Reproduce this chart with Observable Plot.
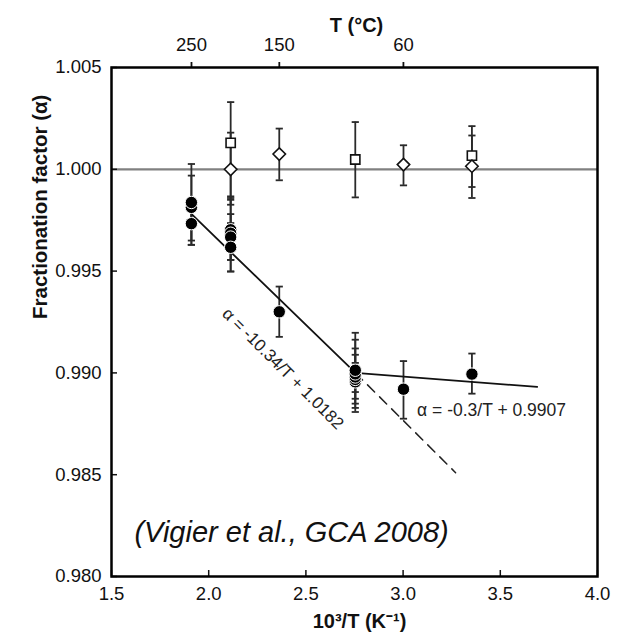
<!DOCTYPE html>
<html>
<head>
<meta charset="utf-8">
<script src="https://cdn.jsdelivr.net/npm/d3@7"></script>
<script src="https://cdn.jsdelivr.net/npm/@observablehq/plot@0.6"></script>
<style>
  html, body { margin: 0; padding: 0; background: #fff; }
  #chart svg { display: block; }
</style>
</head>
<body>
<div id="chart"></div>
<script>
// ---- data ----
const xTicks = [1.5, 2.0, 2.5, 3.0, 3.5, 4.0];
const yTicks = [0.980, 0.985, 0.990, 0.995, 1.000, 1.005];
const topTempC = [250, 150, 60];          // top axis labels, T (°C)
const refLineY = [1.000];

// filled circles
const circleX  = [1.911, 1.911, 1.911, 2.113, 2.113, 2.113, 2.113, 2.363, 2.754, 2.754, 2.754, 2.754, 2.754, 3.002, 3.354];
const circleY  = [0.99733, 0.99813, 0.99837, 0.99703, 0.99686, 0.99667, 0.99617, 0.99300, 0.98956, 0.98968, 0.98980, 0.98995, 0.99013, 0.98920, 0.98994];
const circleLo = [0.99629, 0.99650, 0.99629, 0.99555, 0.99498, 0.99555, 0.99498, 0.99177, 0.98808, 0.98906, 0.98873, 0.98849, 0.98828, 0.98775, 0.98898];
const circleHi = [0.99837, 0.99969, 1.00026, 0.99850, 0.99867, 0.99780, 0.99736, 0.99424, 0.99049, 0.99089, 0.99120, 0.99163, 0.99197, 0.99058, 0.99095];

// open squares
const squareX  = [2.113, 2.754, 3.354];
const squareY  = [1.00130, 1.00048, 1.00067];
const squareLo = [0.99859, 0.99862, 0.99913];
const squareHi = [1.00330, 1.00232, 1.00212];

// open diamonds
const diamondX  = [2.113, 2.363, 3.002, 3.354];
const diamondY  = [1.00000, 1.00075, 1.00023, 1.00015];
const diamondLo = [0.99826, 0.99946, 0.99921, 0.99859];
const diamondHi = [1.00180, 1.00200, 1.00118, 1.00166];

// fitted lines (end points)
const fit1X = [1.915, 2.755];  const fit1Y = [0.99777, 0.99000];
const fit1dX = [2.755, 3.27];  const fit1dY = [0.99000, 0.98510];
const fit2X = [2.755, 3.69];   const fit2Y = [0.99000, 0.98931];

// annotations
const eq1 = {x: 2.382, y: 0.99021, text: "α = -10.34/T + 1.0182"};
const eq2 = {x: 3.072, y: 0.98815, text: "α = -0.3/T + 0.9907"};
const cite = {x: 1.618, y: 0.98217, text: "(Vigier et al., GCA 2008)"};
const xLabel = "10³/T (K⁻¹)";
const yLabel = "Fractionation factor (α)";
const topLabel = "T (°C)";

// ---- build tables ----
const toRows = (X, Y, Lo, Hi) => X.map((x, i) => ({x, y: Y[i], lo: Lo[i], hi: Hi[i]}));
const circles = toRows(circleX, circleY, circleLo, circleHi);
const squares = toRows(squareX, squareY, squareLo, squareHi);
const diamonds = toRows(diamondX, diamondY, diamondLo, diamondHi);
const allPts = [...circles, ...squares, ...diamonds];
const caps = allPts.flatMap(d => [{x: d.x, y: d.lo}, {x: d.x, y: d.hi}]);
const seg = (X, Y) => X.map((x, i) => ({x, y: Y[i]}));
const topPos = topTempC.map(t => 1000 / (t + 273.15));

const capSymbol = { draw(ctx, size) { ctx.moveTo(-3.6, 0); ctx.lineTo(3.6, 0); } };

const W = 627, H = 639, mL = 111, mR = 30, mT = 67, mB = 63;
const frameW = W - mL - mR, frameH = H - mT - mB;
const font = "'Liberation Sans', Arial, Helvetica, sans-serif";

const chart = Plot.plot({
  width: W, height: H,
  marginLeft: mL, marginRight: mR, marginTop: mT, marginBottom: mB,
  style: {fontFamily: font, fontSize: "18.5px", color: "#111", background: "#fff"},
  x: {domain: [1.5, 4.0]},
  y: {domain: [0.980, 1.005]},
  marks: [
    Plot.ruleY(refLineY, {stroke: "#808080", strokeWidth: 2.2}),
    // error bars
    Plot.ruleX(allPts, {x: "x", y1: "lo", y2: "hi", stroke: "#2a2a2a", strokeWidth: 1.8}),
    Plot.dot(caps, {x: "x", y: "y", symbol: capSymbol, r: 4, fill: "none", stroke: "#2a2a2a", strokeWidth: 1.8}),
    // fitted lines
    Plot.line(seg(fit1X, fit1Y), {x: "x", y: "y", stroke: "#111", strokeWidth: 1.8}),
    Plot.line(seg(fit1dX, fit1dY), {x: "x", y: "y", stroke: "#222", strokeWidth: 1.5, strokeDasharray: "10,7"}),
    Plot.line(seg(fit2X, fit2Y), {x: "x", y: "y", stroke: "#111", strokeWidth: 1.8}),
    // markers
    Plot.dot(circles, {x: "x", y: "y", r: 6.2, fill: "#000", stroke: "#fff", strokeWidth: 1}),
    Plot.dot(squares, {x: "x", y: "y", symbol: "square", r: 5.2, fill: "#fff", stroke: "#111", strokeWidth: 1.6}),
    Plot.dot(diamonds, {x: "x", y: "y", symbol: "diamond2", r: 5.6, fill: "#fff", stroke: "#111", strokeWidth: 1.6}),
    // annotations
    Plot.text([eq1], {x: "x", y: "y", text: "text", rotate: 45, textAnchor: "middle", fontSize: 17, fill: "#222"}),
    Plot.text([eq2], {x: "x", y: "y", text: "text", textAnchor: "start", fontSize: 17.5, fill: "#222"}),
    Plot.text([cite], {x: "x", y: "y", text: "text", textAnchor: "start", fontSize: 29, fontStyle: "italic", fill: "#111"}),
    // inner ticks
    Plot.ruleX(xTicks, {insetTop: frameH - 6, stroke: "#111", strokeWidth: 1.5}),
    Plot.ruleY(yTicks, {insetRight: frameW - 6, stroke: "#111", strokeWidth: 1.5}),
    // axes
    Plot.axisX({anchor: "bottom", ticks: xTicks, tickSize: 0, tickPadding: 10, tickFormat: d3.format(".1f"), label: null}),
    Plot.axisY({anchor: "left", ticks: yTicks, tickSize: 0, tickPadding: 10, tickFormat: d3.format(".3f"), label: null}),
    Plot.axisX({anchor: "top", ticks: topPos, tickSize: 6, tickPadding: 11, strokeWidth: 1.8,
      tickFormat: d => String(topTempC[topPos.indexOf(d)]), label: null}),
    // axis titles
    Plot.text([xLabel], {text: d => d, frameAnchor: "bottom", dy: 51, dx: 5, fontWeight: "bold", fontSize: 20}),
    Plot.text([topLabel], {text: d => d, frameAnchor: "top", dy: -50, dx: 2, fontWeight: "bold", fontSize: 20}),
    Plot.text([yLabel], {text: d => d, frameAnchor: "left", dx: -71, dy: -3, rotate: -90, fontWeight: "bold", fontSize: 20.5}),
    Plot.frame({stroke: "#000", strokeWidth: 2.5})
  ]
});
document.getElementById("chart").appendChild(chart);
</script>
</body>
</html>
